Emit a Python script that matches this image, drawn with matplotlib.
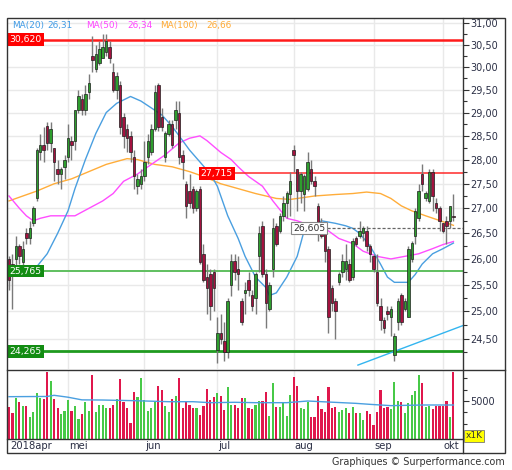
import numpy as np
import matplotlib
matplotlib.use('Agg')
import matplotlib.pyplot as plt
from matplotlib.ticker import FixedLocator, FuncFormatter, NullFormatter
import matplotlib.transforms as mtransforms
from matplotlib.lines import Line2D
from matplotlib.patches import Rectangle

# ---------------- data ----------------
opens = [26.00, 25.90, 26.00, 26.25, 25.95, 26.50, 26.40, 26.70, 27.20, 28.15,
         28.30, 28.70, 28.35, 28.25, 27.80, 27.70, 27.85, 28.05, 28.40, 28.40,
         29.05, 29.30, 29.05, 29.45, 30.25, 29.95, 30.10, 30.20, 30.35, 30.45,
         29.90, 29.50, 29.60, 28.90, 28.65, 28.50, 28.05, 27.45, 27.50, 27.65,
         28.05, 28.15, 28.65, 29.60, 28.90, 28.05, 28.55, 28.75, 28.85, 29.00,
         28.10, 27.50, 27.35, 27.40, 27.00, 27.40, 26.10, 25.65, 25.70, 25.75,
         24.30, 24.60, 24.45, 24.25, 25.50, 25.95, 25.80, 25.20, 25.35, 25.60,
         25.30, 25.25, 26.05, 26.65, 25.70, 25.05, 25.80, 26.65, 26.55, 26.85,
         27.10, 27.30, 28.20, 27.80, 27.35, 27.30, 27.40, 27.80, 27.55, 27.05,
         26.55, 26.60, 26.20, 25.45, 25.20, 25.55, 25.75, 25.80, 25.90, 25.65,
         26.40, 26.45, 26.50, 26.55, 26.25, 26.05, 25.75, 25.10, 24.85, 25.00,
         24.90, 24.20, 24.80, 25.30, 25.05, 24.90, 26.00, 26.45, 26.80, 27.70,
         27.20, 27.15, 27.75, 27.10, 27.00, 26.70, 26.75, 26.75, 26.85]
highs = [26.05, 26.10, 26.45, 26.30, 26.35, 26.60, 26.75, 27.05, 28.25, 28.55,
         28.70, 28.80, 28.80, 28.25, 28.00, 27.85, 28.10, 28.75, 28.50, 29.05,
         29.50, 29.40, 29.60, 29.85, 30.70, 30.50, 30.60, 30.75, 30.75, 30.60,
         30.10, 29.90, 29.70, 29.00, 28.75, 28.60, 28.20, 27.70, 27.80, 28.40,
         28.55, 28.75, 29.60, 29.65, 29.10, 28.60, 28.85, 28.85, 29.25, 29.25,
         28.20, 27.55, 27.70, 27.45, 27.40, 27.45, 26.30, 25.90, 25.80, 25.80,
         24.90, 24.95, 24.80, 25.25, 26.10, 26.10, 26.05, 25.25, 25.55, 25.75,
         25.40, 25.75, 26.65, 26.75, 25.80, 25.55, 26.80, 26.70, 26.90, 27.25,
         27.35, 27.75, 28.30, 27.80, 27.75, 27.70, 28.15, 28.00, 27.65, 27.10,
         26.80, 26.70, 26.25, 25.50, 25.25, 25.75, 26.10, 26.30, 26.00, 26.40,
         26.45, 26.75, 26.65, 26.65, 26.30, 26.10, 26.10, 25.25, 24.90, 25.10,
         25.10, 24.60, 25.25, 25.35, 25.25, 26.25, 26.35, 27.00, 27.50, 27.90,
         27.35, 27.80, 27.80, 27.20, 27.05, 26.70, 26.85, 27.05, 27.30]
lows = [25.40, 25.05, 25.85, 25.90, 25.75, 26.30, 26.30, 26.65, 27.15, 28.00,
        27.95, 28.20, 28.15, 27.55, 27.50, 27.40, 27.60, 27.95, 28.00, 28.20,
        29.00, 28.95, 28.95, 29.30, 29.90, 29.90, 30.05, 30.20, 30.25, 30.10,
        29.45, 29.30, 28.55, 28.25, 28.15, 27.95, 27.40, 27.30, 27.40, 27.55,
        27.90, 28.10, 28.60, 28.60, 28.60, 27.95, 28.50, 28.25, 28.65, 27.90,
        27.60, 26.80, 27.00, 26.90, 26.95, 25.90, 25.55, 24.95, 24.85, 25.00,
        24.05, 24.40, 24.10, 24.15, 25.30, 25.60, 25.40, 24.75, 24.95, 25.30,
        25.00, 24.95, 25.75, 25.65, 24.70, 25.00, 25.65, 26.25, 26.50, 26.75,
        26.80, 26.85, 27.75, 26.95, 27.10, 26.95, 27.35, 27.50, 27.25, 26.35,
        26.40, 25.95, 24.60, 25.00, 24.50, 25.50, 25.65, 25.60, 25.55, 25.60,
        26.25, 26.40, 26.35, 26.15, 25.95, 25.75, 25.10, 24.65, 24.60, 24.85,
        24.55, 24.10, 24.65, 24.75, 25.00, 24.90, 25.95, 26.30, 26.75, 27.35,
        27.15, 27.10, 26.95, 26.90, 26.55, 26.50, 26.30, 26.60, 26.75]
closes = [25.60, 25.70, 26.25, 26.05, 26.20, 26.40, 26.60, 27.00, 28.20, 28.30,
          28.20, 28.35, 28.65, 27.95, 27.70, 27.80, 28.00, 28.45, 28.30, 29.05,
          29.35, 29.05, 29.40, 29.65, 30.15, 30.30, 30.40, 30.45, 30.60, 30.20,
          29.50, 29.80, 28.70, 28.50, 28.45, 28.15, 27.65, 27.60, 27.65, 27.95,
          28.40, 28.65, 29.45, 28.70, 28.70, 28.55, 28.75, 28.30, 29.05, 28.05,
          27.95, 27.05, 27.10, 27.00, 27.35, 25.95, 25.60, 25.45, 25.10, 25.45,
          24.60, 24.50, 24.25, 25.20, 25.95, 25.75, 25.70, 24.80, 25.40, 25.40,
          25.10, 25.70, 26.50, 25.70, 25.15, 25.50, 26.60, 26.30, 26.85, 27.10,
          27.30, 27.55, 28.10, 27.35, 27.70, 27.65, 27.95, 27.55, 27.45, 26.60,
          26.45, 26.15, 24.90, 25.15, 25.00, 25.70, 25.95, 25.95, 25.60, 26.35,
          26.30, 26.55, 26.60, 26.25, 26.10, 25.80, 25.15, 24.85, 24.70, 24.95,
          25.05, 24.55, 25.20, 24.80, 25.20, 26.20, 26.30, 26.95, 27.35, 27.50,
          27.30, 27.75, 27.25, 27.00, 26.75, 26.55, 26.65, 27.05, 26.83]
volumes = [4210, 3380, 5350, 4830, 4390, 4390, 2940, 3510, 6100, 5350,
           5260, 8860, 7630, 5260, 4125, 3250, 3730, 5130, 3730, 4390,
           2590, 3250, 4910, 3730, 8420, 3510, 4475, 4475, 4125, 4035,
           4475, 5260, 7900, 4830, 4125, 2150, 6230, 5570, 7980, 5130,
           3730, 4125, 4910, 6980, 6450, 4340, 3510, 5260, 5660, 7980,
           4035, 4910, 4475, 4125, 4035, 3160, 4390, 6580, 5180, 5490,
           6010, 5700, 3820, 6800, 4475, 4475, 4035, 5350, 5350, 4125,
           3900, 4475, 5000, 5000, 6230, 3070, 7320, 4255, 4255, 4910,
           3070, 5790, 8200, 6980, 4125, 3950, 4910, 2940, 2940, 5700,
           3900, 3600, 6800, 4125, 4255, 3510, 3820, 4035, 3380, 4255,
           3380, 3380, 2500, 3690, 3290, 1840, 3510, 6450, 4125, 4255,
           3900, 7460, 5000, 4830, 3380, 4780, 5790, 6320, 8420, 7320,
           4255, 4340, 3900, 4340, 4340, 4340, 5000, 2940, 8770]

ma20_idx = [5, 8, 11, 14, 17, 19, 22, 25, 28, 31, 35, 38, 41, 44, 47, 50, 52, 55, 58,
            60, 63, 66, 68, 71, 74, 75, 77, 80, 83, 85, 88, 90, 94, 97, 99, 101, 104,
            107, 109, 111, 115, 117, 119, 122, 125, 128]
ma20_val = [25.70, 25.85, 26.10, 26.50, 26.95, 27.40, 28.00, 28.55, 29.00, 29.20, 29.35,
            29.25, 29.10, 28.95, 28.70, 28.40, 28.20, 27.95, 27.70, 27.45, 26.85, 26.40,
            26.05, 25.65, 25.45, 25.30, 25.35, 25.65, 26.05, 26.55, 26.65, 26.75, 26.70,
            26.65, 26.60, 26.50, 26.25, 25.90, 25.65, 25.55, 25.55, 25.70, 25.90, 26.10,
            26.20, 26.31]
ma50_idx = [0, 3, 5, 7, 9, 12, 16, 19, 23, 27, 30, 33, 37, 41, 45, 49, 52, 55, 57, 61,
            64, 66, 69, 73, 76, 80, 83, 87, 90, 92, 95, 99, 102, 106, 110, 114, 118, 122,
            125, 128]
ma50_val = [27.25, 27.00, 26.85, 26.75, 26.80, 26.85, 26.85, 26.85, 27.00, 27.15, 27.30,
            27.55, 27.70, 27.90, 28.10, 28.35, 28.45, 28.50, 28.40, 28.15, 28.00, 27.85,
            27.65, 27.45, 27.15, 26.80, 26.75, 26.65, 26.65, 26.55, 26.40, 26.30, 26.15,
            26.05, 26.00, 26.05, 26.10, 26.20, 26.28, 26.34]
ma100_idx = [0, 4, 8, 13, 18, 23, 28, 34, 37, 42, 47, 52, 56, 61, 66, 71, 77, 81, 88,
             94, 99, 103, 107, 110, 113, 116, 120, 123, 128]
ma100_val = [27.15, 27.25, 27.35, 27.50, 27.60, 27.75, 27.90, 28.02, 28.00, 27.90, 27.85,
             27.75, 27.65, 27.50, 27.40, 27.30, 27.20, 27.18, 27.25, 27.28, 27.30, 27.33,
             27.30, 27.20, 27.05, 26.95, 26.85, 26.78, 26.66]
vma_idx = [0, 11, 13, 17, 21, 27, 36, 46, 53, 58, 65, 71, 80, 86, 90, 100, 104, 110, 119, 128]
vma_val = [5570, 5600, 5750, 5500, 5150, 5130, 5045, 4910, 4910, 4780, 4830, 4780, 4780,
           5000, 4910, 4690, 4560, 4390, 4475, 4475]

month_labels = ['2018apr', 'mei', 'jun', 'jul', 'aug', 'sep', 'okt']
month_start = [0, 17, 39, 60, 82, 105, 125]

levels = [30.62, 27.715, 25.765, 24.265]
level_labels = ['30,620', '27,715', '25,765', '24,265']
dashed_level = 26.605
trend_x = [100.5, 130.8]
trend_y = [24.02, 24.74]

legend_names = ['MA(20)', 'MA(50)', 'MA(100)']
legend_values = ['26,31', '26,34', '26,66']

# ---------------- figure ----------------
W, H = 512, 470
fig = plt.figure(figsize=(W / 100, H / 100), dpi=100)
fig.patch.set_facecolor('white')

def fx(px):
    return px / W

def fy(py):
    return 1 - py / H

ax = fig.add_axes([fx(7), fy(369), fx(463) - fx(7), fy(18) - fy(369)])
axv = fig.add_axes([fx(7), fy(439), fx(463) - fx(7), fy(371) - fy(439)])

n = len(closes)
x = np.arange(n)
XL = (-0.576, 130.76)

GREEN_C = '#2e9e2e'
RED_C = '#a3123f'
GRID = '#e9e9e9'
TXT = '#2b2f45'

# --- main price panel ---
ax.set_yscale('log')
ax.set_xlim(*XL)
ax.set_ylim(23.95, 31.12)
for m in month_start[1:]:
    ax.axvline(m, color=GRID, lw=1, zorder=0)
    axv.axvline(m, color=GRID, lw=1, zorder=0)
major = np.arange(24.5, 31.01, 0.5)
minor = np.arange(24.25, 31.01, 0.25)
for t in major:
    ax.axhline(t, color=GRID, lw=1, zorder=0)

ax.yaxis.tick_right()
ax.yaxis.set_major_locator(FixedLocator(major))
ax.yaxis.set_minor_locator(FixedLocator([m for m in minor if not np.isclose((m * 2) % 1, 0)]))
ax.yaxis.set_major_formatter(FuncFormatter(lambda v, p: f"{v:.2f}".replace('.', ',')))
ax.yaxis.set_minor_formatter(NullFormatter())
ax.tick_params(axis='y', which='major', length=4, width=0.8, pad=1, labelsize=7.0,
               labelcolor=TXT, color='#333')
ax.tick_params(axis='y', which='minor', length=3, width=0.8, color='#333')
ax.set_xticks([])
for s in ax.spines.values():
    s.set_visible(False)

# moving averages
ax.plot(ma100_idx, ma100_val, color='#ffad3a', lw=1, zorder=2)
ax.plot(ma50_idx, ma50_val, color='#ff4dff', lw=1, zorder=2)
ax.plot(ma20_idx, ma20_val, color='#4a9fe0', lw=1, zorder=2)

# horizontal levels
ax.axhline(levels[0], color='#ff1a1a', lw=1.8, zorder=3)
ax.plot([54.9, XL[1]], [levels[1], levels[1]], color='#ff2a2a', lw=1.1, zorder=3)
ax.axhline(levels[2], color='#5fbf5f', lw=1.4, zorder=3)
ax.axhline(levels[3], color='#1f9a1f', lw=2, zorder=3)
ax.plot([81.5, XL[1]], [dashed_level, dashed_level], color='#666', lw=0.9,
        ls=(0, (2.5, 1.5)), zorder=3)
ax.plot(trend_x, trend_y, color='#33b5f0', lw=1, zorder=3)

# candles
o = np.array(opens); c = np.array(closes); h = np.array(highs); l = np.array(lows)
up = c >= o
ax.vlines(x, l, h, color='#7a7a7a', lw=1, zorder=4)
ax.bar(x, np.abs(c - o) + 1e-3, bottom=np.minimum(o, c), width=0.72,
       color=np.where(up, GREEN_C, RED_C), edgecolor='#1e1e1e', linewidth=0.5, zorder=5)

# level labels
blend = mtransforms.blended_transform_factory(ax.transAxes, ax.transData)
lab_kw = dict(fontsize=6.7, va='center', ha='left', zorder=8)
ax.text(0.006, levels[0], level_labels[0], color='white', transform=blend,
        bbox=dict(boxstyle='square,pad=0.2', fc='#ff0000', ec='none'), **lab_kw)
ax.text(55.2, levels[1], level_labels[1], color='white',
        bbox=dict(boxstyle='square,pad=0.2', fc='#ff0000', ec='none'), **lab_kw)
ax.text(0.006, levels[2], level_labels[2], color='white', transform=blend,
        bbox=dict(boxstyle='square,pad=0.2', fc='#128c12', ec='none'), **lab_kw)
ax.text(0.006, levels[3], level_labels[3], color='white', transform=blend,
        bbox=dict(boxstyle='square,pad=0.2', fc='#128c12', ec='none'), **lab_kw)
ax.text(81.8, dashed_level, f"{dashed_level:.3f}".replace('.', ','), color='#333',
        bbox=dict(boxstyle='square,pad=0.2', fc='white', ec='#888', lw=0.8), **lab_kw)

# legend
leg_cols = ['#3f9be6', '#ff44ff', '#ffaa33']
leg_pos = [(12, 47), (86, 127), (160, 206)]
for name, val, col, (p1, p2) in zip(legend_names, legend_values, leg_cols, leg_pos):
    fig.text(fx(p1), fy(25.5), name, color=col, fontsize=6.4, va='center', ha='left')
    fig.text(fx(p2), fy(25.5), val, color=col, fontsize=6.4, va='center', ha='left')

# --- volume panel ---
vol = np.array(volumes)
axv.bar(x, vol, width=0.62, color=np.where(up, '#47c947', '#e0174c'), lw=0, zorder=2)
axv.plot(vma_idx, vma_val, color='#4a9fe0', lw=1, zorder=3)
axv.set_xlim(*XL)
axv.set_ylim(0, 8950)
axv.yaxis.tick_right()
axv.yaxis.set_major_locator(FixedLocator([5000]))
axv.yaxis.set_minor_locator(FixedLocator([2000, 3500, 6500, 8000]))
axv.yaxis.set_major_formatter(FuncFormatter(lambda v, p: f"{int(v)}"))
axv.tick_params(axis='y', which='major', length=4, width=0.8, pad=1, labelsize=7.0,
                labelcolor=TXT, color='#333')
axv.tick_params(axis='y', which='minor', length=3, width=0.8, color='#333')
axv.set_xticks([])
for s in axv.spines.values():
    s.set_visible(False)

# month labels
for lab, m in zip(month_labels, month_start):
    px = 9 + 3.472 * m
    if m == 0:
        px = 10
    else:
        px += 1
    fig.text(fx(px), fy(446), lab, fontsize=7.2, color=TXT, va='center', ha='left')

# frame lines
line_kw = dict(transform=fig.transFigure, color='#333', lw=1)
fig.add_artist(Rectangle((fx(7), fy(453)), fx(505) - fx(7), fy(18) - fy(453),
                         transform=fig.transFigure, fill=False, ec='#333', lw=1))
fig.add_artist(Line2D([fx(463), fx(463)], [fy(18), fy(453)], **line_kw))
fig.add_artist(Line2D([fx(7), fx(505)], [fy(370), fy(370)], **line_kw))
fig.add_artist(Line2D([fx(7), fx(463)], [fy(439), fy(439)], **line_kw))

# x1K box
fig.text(fx(474), fy(436), 'x1K', fontsize=6.5, color='#333', ha='center', va='center',
         bbox=dict(boxstyle='square,pad=0.15', fc='#ffff00', ec='#777', lw=0.6))

# footer
fig.text(fx(505), fy(462), 'Graphiques © Surperformance.com', fontsize=6.9,
         color='#333', ha='right', va='center')

fig.savefig('out.png', dpi=100, facecolor='white')
